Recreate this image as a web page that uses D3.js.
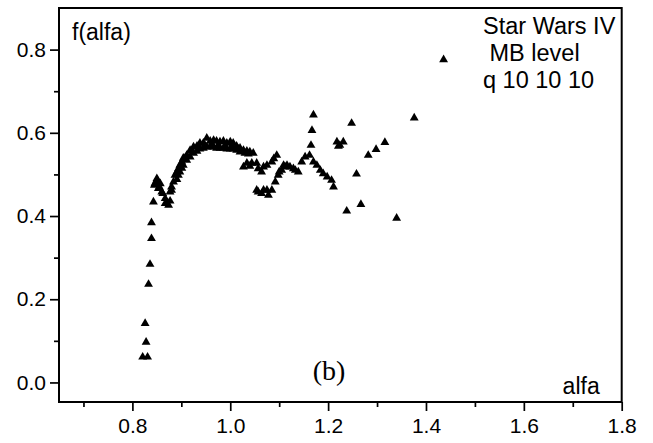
<!DOCTYPE html>
<html>
<head>
<meta charset="utf-8">
<script src="https://cdn.jsdelivr.net/npm/d3@7"></script>
<style>
  html, body { margin: 0; padding: 0; background: #fff; }
  svg { display: block; }
  text { fill: #000; }
  .sans { font-family: "Liberation Sans", Arial, sans-serif; }
  .serif { font-family: "Liberation Serif", "Times New Roman", serif; }
</style>
</head>
<body>
<svg id="chart" width="653" height="443"></svg>
<script>
// ---- data ----
const alfa = [
  0.821, 0.831, 0.826, 0.828, 0.833, 0.836, 0.839, 0.839, 0.843,
  0.845, 0.846, 0.850, 0.851, 0.853, 0.857, 0.860, 0.862, 0.867, 0.867, 0.870, 0.874, 0.877, 0.877, 0.880, 0.848, 0.855,
  0.880, 0.884, 0.887, 0.891, 0.894, 0.897, 0.901, 0.904, 0.911, 0.918, 0.925, 0.932, 0.938, 0.945, 0.952, 0.959, 0.966, 0.972, 0.979, 0.986, 0.993, 1.000, 1.006, 1.013, 1.020, 1.027, 1.034, 1.040, 1.047,
  0.891, 0.894, 0.897, 0.901, 0.904, 0.911, 0.918, 0.925, 0.932, 0.938, 0.945, 0.952, 0.959, 0.966, 0.972, 0.979, 0.986, 0.993, 1.000, 1.006, 1.013, 1.020,
  0.908, 0.921, 0.935, 0.948, 0.962, 0.976, 0.990, 1.003, 1.017, 1.030, 1.037,
  1.027, 1.034, 1.040, 1.044, 1.054, 1.057, 1.064, 1.068, 1.075, 1.085, 1.095, 1.089,
  1.054, 1.075, 1.057, 1.068, 1.078, 1.085, 1.092, 1.098, 1.105, 1.116, 1.122, 1.129, 1.139, 1.146, 1.153, 1.162, 1.165, 1.167, 1.170,
  1.170, 1.177, 1.184, 1.190, 1.198, 1.207, 1.211, 1.100, 1.112, 1.133, 1.064, 1.109,
  1.218, 1.224, 1.231, 1.221,
  1.238, 1.248, 1.258, 1.267, 1.282, 1.298, 1.316, 1.340, 1.376, 1.436
];
const falfa = [
  0.061, 0.061, 0.142, 0.097, 0.236, 0.284, 0.346, 0.384, 0.434,
  0.474, 0.478, 0.490, 0.486, 0.466, 0.478, 0.458, 0.454, 0.442, 0.430, 0.432, 0.426, 0.436, 0.458, 0.462, 0.482, 0.470,
  0.470, 0.482, 0.498, 0.506, 0.514, 0.522, 0.530, 0.539, 0.546, 0.558, 0.566, 0.568, 0.575, 0.575, 0.587, 0.580, 0.582, 0.580, 0.578, 0.580, 0.575, 0.578, 0.575, 0.568, 0.563, 0.558, 0.556, 0.554, 0.551,
  0.488, 0.498, 0.506, 0.515, 0.522, 0.534, 0.542, 0.551, 0.556, 0.561, 0.563, 0.566, 0.566, 0.566, 0.563, 0.563, 0.563, 0.561, 0.561, 0.561, 0.558, 0.554,
  0.540, 0.556, 0.566, 0.570, 0.573, 0.570, 0.568, 0.568, 0.561, 0.551, 0.549,
  0.518, 0.527, 0.520, 0.527, 0.527, 0.514, 0.506, 0.518, 0.522, 0.530, 0.546, 0.538,
  0.462, 0.462, 0.458, 0.462, 0.450, 0.462, 0.482, 0.498, 0.510, 0.522, 0.518, 0.514, 0.506, 0.530, 0.542, 0.546, 0.570, 0.606, 0.643,
  0.530, 0.522, 0.510, 0.502, 0.494, 0.486, 0.470, 0.506, 0.518, 0.510, 0.454, 0.522,
  0.578, 0.570, 0.578, 0.568,
  0.412, 0.623, 0.501, 0.428, 0.546, 0.560, 0.577, 0.395, 0.636, 0.776
];
const xMajorTicks = [0.8, 1.0, 1.2, 1.4, 1.6, 1.8];
const xMinorTicks = [0.7, 0.9, 1.1, 1.3, 1.5, 1.7];
const yMajorTicks = [0.0, 0.2, 0.4, 0.6, 0.8];
const yMinorTicks = [0.1, 0.3, 0.5, 0.7];
const xLabel = "alfa";
const yLabel = "f(alfa)";
const legendLines = ["Star Wars IV", " MB level", "q 10 10 10"];
const panelLabel = "(b)";

// ---- drawing ----
(function () {
const svg = d3.select("#chart");
const pl = 59, pr = 621.7, pt = 8, pb = 402;
const x = d3.scaleLinear().domain([0.65, 1.8]).range([pl, pr]);
const y = d3.scaleLinear().domain([-0.047, 0.9]).range([pb, pt]);

// minor ticks
svg.append("g").attr("transform", `translate(0,${pb})`)
  .call(d3.axisBottom(x).tickValues(xMinorTicks).tickSize(5).tickFormat(""))
  .call(g => g.select(".domain").remove())
  .selectAll("line").attr("stroke", "#000").attr("stroke-width", 1.7);
svg.append("g").attr("transform", `translate(${pl},0)`)
  .call(d3.axisLeft(y).tickValues(yMinorTicks).tickSize(5).tickFormat(""))
  .call(g => g.select(".domain").remove())
  .selectAll("line").attr("stroke", "#000").attr("stroke-width", 1.7);

// major ticks
const xa = svg.append("g").attr("transform", `translate(0,${pb})`)
  .call(d3.axisBottom(x).tickValues(xMajorTicks).tickSize(9).tickPadding(7).tickFormat(d3.format(".1f")));
xa.select(".domain").remove();
xa.selectAll("line").attr("stroke", "#000").attr("stroke-width", 1.7);
xa.selectAll("text").attr("class", "sans").style("font-size", "21px").attr("fill", "#000");

const ya = svg.append("g").attr("transform", `translate(${pl},0)`)
  .call(d3.axisLeft(y).tickValues(yMajorTicks).tickSize(9).tickPadding(4).tickFormat(d3.format(".1f")));
ya.select(".domain").remove();
ya.selectAll("line").attr("stroke", "#000").attr("stroke-width", 1.7);
ya.selectAll("text").attr("class", "sans").style("font-size", "21px").attr("fill", "#000");

// frame
svg.append("rect")
  .attr("x", pl).attr("y", pt)
  .attr("width", pr - pl).attr("height", pb - pt)
  .attr("fill", "none").attr("stroke", "#000").attr("stroke-width", 2);

// points
const tri = d3.symbol().type(d3.symbolTriangle).size(34);
svg.append("g").selectAll("path")
  .data(alfa.map((a, i) => [a, falfa[i]]))
  .join("path")
  .attr("d", tri)
  .attr("transform", d => `translate(${x(d[0])},${y(d[1])})`)
  .attr("fill", "#000");

// texts
svg.append("text").attr("class", "sans").attr("x", pl + 13).attr("y", 40).style("font-size", "23px").text(yLabel);
svg.append("text").attr("class", "sans").attr("x", pr - 22).attr("y", 394).attr("text-anchor", "end").style("font-size", "23px").text(xLabel);
svg.append("text").attr("class", "serif").attr("x", 329).attr("y", 380).attr("text-anchor", "middle")
  .style("font-size", "28px").text(panelLabel);

const lg = svg.append("text").attr("class", "sans").style("font-size", "23.5px").attr("xml:space", "preserve");
legendLines.forEach((t, i) => {
  lg.append("tspan").attr("x", 483).attr("y", 34 + i * 27).text(t);
});
})();
</script>
</body>
</html>
